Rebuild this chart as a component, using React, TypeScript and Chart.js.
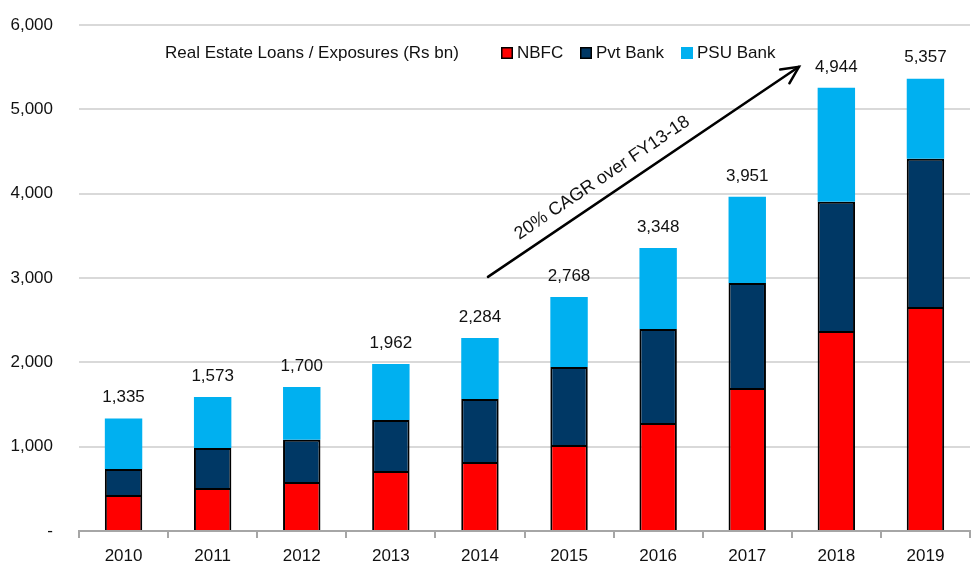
import React, { useEffect, useRef } from "react";
import { Chart, registerables } from "chart.js";

Chart.register(...registerables);

const years = ["2010", "2011", "2012", "2013", "2014", "2015", "2016", "2017", "2018", "2019"];
const nbfc = [427, 510, 581, 712, 818, 1020, 1281, 1696, 2372, 2657];
const pvtBank = [308, 475, 500, 605, 748, 925, 1115, 1246, 1531, 1756];
const psuBank = [600, 605, 627, 664, 724, 831, 961, 1020, 1352, 949];
const totalLabels = ["1,335", "1,573", "1,700", "1,962", "2,284", "2,768", "3,348", "3,951", "4,944", "5,357"];
const chartTitle = "Real Estate Loans / Exposures (Rs bn)";
const arrowText = "20% CAGR over FY13-18";
// arrow in data coordinates: [category index, value]
const arrowStart = [4.09, 3013];
const arrowEnd = [7.58, 5504];

const FONT = "'Liberation Sans', Arial, sans-serif";

const overlayPlugin = {
  id: "overlay",
  afterDatasetsDraw(chart: any) {
    const ctx = chart.ctx;
    const xs = chart.scales.x;
    const ys = chart.scales.y;
    ctx.save();
    // total labels
    ctx.font = `17px ${FONT}`;
    ctx.fillStyle = "#111";
    ctx.textAlign = "center";
    ctx.textBaseline = "middle";
    years.forEach((_, i) => {
      const total = nbfc[i] + pvtBank[i] + psuBank[i];
      const x = xs.getPixelForValue(i);
      const y = ys.getPixelForValue(total);
      ctx.fillText(totalLabels[i], x, y - 21);
    });

    // title text
    ctx.font = `17px ${FONT}`;
    ctx.textAlign = "left";
    ctx.fillText(chartTitle, 165, 53);

    // legend
    const boxX = [501, 580, 681];
    chart.data.datasets.forEach((ds: any, i: number) => {
      const lx = boxX[i];
      ctx.fillStyle = ds.backgroundColor;
      ctx.fillRect(lx, 47, 12, 12);
      if (ds.borderWidth > 0) {
        ctx.strokeStyle = "#000";
        ctx.lineWidth = 1.5;
        ctx.strokeRect(lx + 0.75, 47.75, 10.5, 10.5);
      }
      ctx.fillStyle = "#111";
      ctx.font = `17px ${FONT}`;
      ctx.fillText(ds.label, lx + 16, 53);
    });

    // arrow
    const x1 = xs.getPixelForValue(arrowStart[0]);
    const y1 = ys.getPixelForValue(arrowStart[1]);
    const x2 = xs.getPixelForValue(arrowEnd[0]);
    const y2 = ys.getPixelForValue(arrowEnd[1]);
    const ang = Math.atan2(y2 - y1, x2 - x1);
    ctx.strokeStyle = "#000";
    ctx.lineWidth = 2.5;
    ctx.lineCap = "round";
    ctx.beginPath();
    ctx.moveTo(x1, y1);
    ctx.lineTo(x2, y2);
    ctx.stroke();
    const head = 19;
    ctx.beginPath();
    ctx.moveTo(x2 - head * Math.cos(ang - 0.45), y2 - head * Math.sin(ang - 0.45));
    ctx.lineTo(x2, y2);
    ctx.lineTo(x2 - head * Math.cos(ang + 0.45), y2 - head * Math.sin(ang + 0.45));
    ctx.stroke();

    // rotated text
    const mx = x1 + (x2 - x1) * 0.4;
    const my = y1 + (y2 - y1) * 0.4;
    ctx.translate(mx, my);
    ctx.rotate(ang);
    ctx.font = `18px ${FONT}`;
    ctx.fillStyle = "#111";
    ctx.textAlign = "center";
    ctx.textBaseline = "bottom";
    ctx.fillText(arrowText, 0, -9);
    ctx.restore();
  },
};

export default function App() {
  const ref = useRef<HTMLCanvasElement | null>(null);
  useEffect(() => {
    if (!ref.current) return;
    const chart = new Chart(ref.current, {
      type: "bar",
      data: {
        labels: years,
        datasets: [
          { label: "NBFC", data: nbfc, backgroundColor: "#FF0000", borderColor: "#000", borderWidth: 2 },
          { label: "Pvt Bank", data: pvtBank, backgroundColor: "#003865", borderColor: "#000", borderWidth: 2 },
          { label: "PSU Bank", data: psuBank, backgroundColor: "#00B0F0", borderWidth: 0 },
        ],
      },
      options: {
        responsive: false,
        animation: false,
        events: [],
        layout: { padding: { top: 25, right: 1, left: 0, bottom: 0 } },
        datasets: { bar: { categoryPercentage: 1, barPercentage: 0.42 } },
        plugins: { legend: { display: false }, tooltip: { enabled: false }, title: { display: false } },
        scales: {
          x: {
            stacked: true,
            grid: { display: true, drawOnChartArea: false, drawTicks: true, tickLength: 7, color: "#A6A6A6", lineWidth: 2, offset: true },
            border: { display: true, color: "#A6A6A6", width: 2 },
            ticks: { color: "#111", font: { family: FONT, size: 17 }, padding: 8, maxRotation: 0 },
            afterFit: (s: any) => { s.height = 35; },
          },
          y: {
            stacked: true,
            min: 0,
            max: 6000,
            grid: { color: "#D9D9D9", lineWidth: 2, drawTicks: true, tickLength: 23, tickColor: "rgba(0,0,0,0)" },
            border: { display: false },
            ticks: {
              stepSize: 1000,
              color: "#111",
              font: { family: FONT, size: 17 },
              padding: 3,
              callback: (v: any) => (Number(v) === 0 ? "-" : Number(v).toLocaleString("en-US")),
            },
            afterFit: (s: any) => { s.width = 79; },
          },
        },
      },
      plugins: [overlayPlugin],
    });
    return () => chart.destroy();
  }, []);
  return (
    <div style={{ position: "absolute", left: 0, top: 0, width: 971, height: 566, background: "#fff" }}>
      <canvas ref={ref} width={971} height={566} />
    </div>
  );
}
